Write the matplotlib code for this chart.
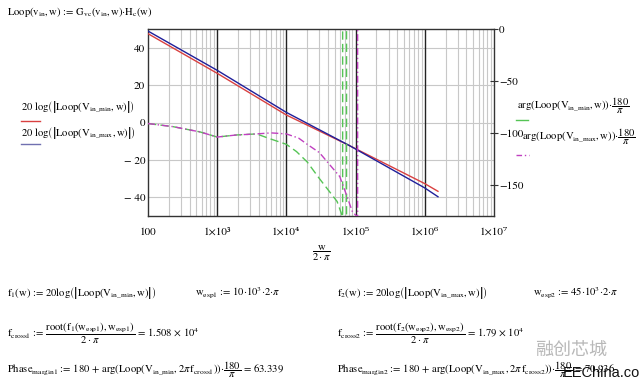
import numpy as np
import matplotlib
matplotlib.use("Agg")
import matplotlib.pyplot as plt
from matplotlib.ticker import FixedLocator, FixedFormatter, NullFormatter, NullLocator

plt.rcParams['font.family'] = ['STIXGeneral', 'DejaVu Serif']
plt.rcParams['mathtext.fontset'] = 'stix'

# magnitude (dB)
f_mag = [100, 1e3, 1e4, 8.2e4, 1e6, 1.55e6]
mag_min = [47.5, 26.3, 4.0, -12.4, -32.7, -36.8]
mag_max = [48.9, 27.9, 5.4, -12.4, -35.0, -39.7]

# phase (deg), wrapped the way Mathcad draws it
f_ph_min = [100, 230, 560, 1000, 1900, 3700, 6000, 1e4, 1.4e4, 2e4, 3e4, 5.4e4,
            6.5e4, 6.5e4, 7.4e4, 7.4e4, 1e5]
ph_min = [-91, -94, -99, -104, -102, -101, -106, -111, -118, -128, -144, -166,
          -181, 10, 10, -190, -200]
f_ph_max = [100, 230, 560, 1000, 1900, 3700, 6000, 1e4, 1.5e4, 2e4, 3e4, 5.9e4,
            7.5e4, 9e4, 1.07e5, 1.07e5, 1.5e5]
ph_max = [-91, -94, -99, -104, -102, -101, -100, -101, -105, -111, -119, -142,
          -161, -176, -181, 10, 10]

x_ticks = [1e2, 1e3, 1e4, 1e5, 1e6, 1e7]
x_labels = ['100', '1×10³', '1×10⁴', '1×10⁵', '1×10⁶', '1×10⁷']
y_ticks = [-40, -20, 0, 20, 40]
y_labels = ['\u2212 40', '\u2212 20', '0', '20', '40']
y2_ticks = [0, -50, -100, -150]
y2_labels = ['0', '\u221250', '\u2212100', '\u2212150']

W, H = 640, 386
fig = plt.figure(figsize=(6.4, 3.86), dpi=100)
ax = fig.add_axes([148 / W, 1 - 216 / H, (494 - 148) / W, (216 - 29) / H])

def px(x, y):
    return x / W, 1 - y / H

ax.set_xscale('log')
ax.set_xlim(1e2, 1e7)
ax.set_ylim(-50, 50)

# grid: light minor lines, black decade lines
minor = [m * 10 ** d for d in range(2, 7) for m in range(2, 10)]
for f in minor:
    ax.axvline(f, color='#c8c8c8', lw=0.8, zorder=0)
for f in x_ticks[1:-1]:
    ax.axvline(f, color='#222222', lw=1.0, zorder=1)
for v in y_ticks:
    ax.axhline(v, color='#c8c8c8', lw=0.8, zorder=0)

ax.plot(f_mag, mag_min, color='#d94040', lw=1.0, zorder=3)
ax.plot(f_mag, mag_max, color='#1f1f9a', lw=1.0, zorder=3)

ax.set_yticks(y_ticks)
ax.set_yticklabels(y_labels)
ax.tick_params(axis='y', length=0, labelsize=8, pad=2)
for s in ax.spines.values():
    s.set_color('#333333')
    s.set_linewidth(1.0)

ax2 = ax.twinx()
ax2.set_ylim(-180, 0)
ax2.plot(f_ph_min, ph_min, color='#55c455', lw=1.0, dashes=(6, 3), zorder=2)
ax2.plot(f_ph_max, ph_max, color='#c040c0', lw=1.0, dashes=(5, 2, 1, 2), zorder=2)
ax2.set_yticks(y2_ticks)
ax2.set_yticklabels(y2_labels)
ax2.tick_params(axis='y', direction='inout', length=6, labelsize=8, pad=0.5,
                color='#333333')
for s in ax2.spines.values():
    s.set_visible(False)

ax.set_xlim(1e2, 1e7)
ax.xaxis.set_major_locator(FixedLocator(x_ticks))
ax.xaxis.set_major_formatter(FixedFormatter(x_labels))
ax.xaxis.set_minor_locator(NullLocator())
ax.xaxis.set_minor_formatter(NullFormatter())
ax.tick_params(axis='x', which='both', length=0, labelsize=8, pad=8)

fs = 7.7
# title
fig.text(*px(7, 12), r'Loop$\left(\mathrm{v_{in}},\mathrm{w}\right)$ := G$_{\mathrm{vc}}$$\left(\mathrm{v_{in}},\mathrm{w}\right)$$\cdot$H$_{\mathrm{c}}$(w)',
         fontsize=fs, va='center')

# left legend
fig.text(*px(21, 107), r'20 log$\left(\left|\mathrm{Loop}\left(\mathrm{V_{in\_min}},\mathrm{w}\right)\right|\right)$',
         fontsize=fs, va='center')
fig.add_artist(plt.Line2D([21 / W, 40 / W], [1 - 121 / H] * 2, color='#d94040', lw=1.0))
fig.text(*px(21, 133), r'20 log$\left(\left|\mathrm{Loop}\left(\mathrm{V_{in\_max}},\mathrm{w}\right)\right|\right)$',
         fontsize=fs, va='center')
fig.add_artist(plt.Line2D([21 / W, 40 / W], [1 - 144 / H] * 2, color='#7070b0', lw=1.0))

# right legend
fig.text(*px(517, 106), r'arg$\left(\mathrm{Loop}\left(\mathrm{V_{in\_min}},\mathrm{w}\right)\right)$$\cdot\dfrac{180}{\pi}$',
         fontsize=fs, va='center')
fig.add_artist(plt.Line2D([516 / W, 528 / W], [1 - 120 / H] * 2, color='#55c455', lw=1.0))
fig.text(*px(522, 137), r'arg$\left(\mathrm{Loop}\left(\mathrm{V_{in\_max}},\mathrm{w}\right)\right)$$\cdot\dfrac{180}{\pi}$',
         fontsize=fs, va='center')
fig.add_artist(plt.Line2D([516 / W, 529 / W], [1 - 155 / H] * 2, color='#c040c0', lw=1.0,
                          dashes=(4, 2, 1, 2)))

# x axis label
fig.text(*px(322, 253), r'$\dfrac{\mathrm{w}}{2\cdot\pi}$', fontsize=fs, ha='center', va='center')

# formulas below the chart
fig.text(*px(7, 293), r'f$_1$(w) := 20log$\left(\left|\mathrm{Loop}\left(\mathrm{V_{in\_min}},\mathrm{w}\right)\right|\right)$',
         fontsize=fs, va='center')
fig.text(*px(195, 293), r'w$_{\mathrm{esp1}}$ := 10$\cdot$10$^3$$\cdot$2$\cdot\pi$', fontsize=fs, va='center')
fig.text(*px(337, 293), r'f$_2$(w) := 20log$\left(\left|\mathrm{Loop}\left(\mathrm{V_{in\_max}},\mathrm{w}\right)\right|\right)$',
         fontsize=fs, va='center')
fig.text(*px(533, 293), r'w$_{\mathrm{esp2}}$ := 45$\cdot$10$^3$$\cdot$2$\cdot\pi$', fontsize=fs, va='center')

fig.text(*px(7, 333), r'f$_{\mathrm{cross1}}$ := $\dfrac{\mathrm{root}\left(\mathrm{f_1}\left(\mathrm{w_{esp1}}\right),\mathrm{w_{esp1}}\right)}{2\cdot\pi}$ = 1.508 $\times$ 10$^4$',
         fontsize=fs, va='center')
fig.text(*px(337, 333), r'f$_{\mathrm{cross2}}$ := $\dfrac{\mathrm{root}\left(\mathrm{f_2}\left(\mathrm{w_{esp2}}\right),\mathrm{w_{esp2}}\right)}{2\cdot\pi}$ = 1.79 $\times$ 10$^4$',
         fontsize=fs, va='center')

fig.text(*px(7, 370), r'Phase$_{\mathrm{margin1}}$ := 180 + arg$\left(\mathrm{Loop}\left(\mathrm{V_{in\_min}},2\pi\,\mathrm{f_{cross1}}\right)\right)$$\cdot\dfrac{180}{\pi}$ = 63.339',
         fontsize=fs, va='center')
fig.text(*px(337, 370), r'Phase$_{\mathrm{margin2}}$ := 180 + arg$\left(\mathrm{Loop}\left(\mathrm{V_{in\_max}},2\pi\,\mathrm{f_{cross2}}\right)\right)$$\cdot\dfrac{180}{\pi}$ = 70.936',
         fontsize=fs, va='center')

# watermark
fig.text(*px(535, 350), '融创芯城', family=['Noto Sans CJK SC', 'DejaVu Sans'],
         fontsize=13, color='#b8b8b8', va='center')
fig.text(*px(563, 373), 'EEChina.com', family=['Liberation Sans', 'DejaVu Sans'],
         fontsize=10.5, color='#111111', va='center')

fig.savefig('out.png', dpi=100)
